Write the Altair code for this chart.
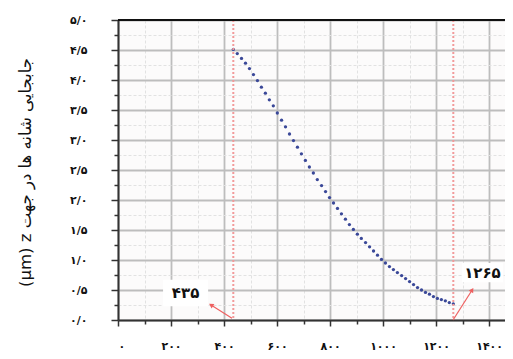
import altair as alt
import pandas as pd

# ---- data ----
pos_x = [435, 450, 466, 481, 496, 511, 526, 541, 556, 571,
         586, 601, 617, 632, 647, 662, 677, 692, 707, 722,
         737, 752, 768, 783, 798, 813, 828, 843, 858, 873,
         888, 903, 918, 934, 949, 964, 979, 994, 1009, 1024,
         1039, 1054, 1070, 1085, 1100, 1115, 1130, 1145, 1160, 1175,
         1190, 1205, 1220, 1235, 1250, 1265]
disp_z = [4.51, 4.44, 4.36, 4.28, 4.19, 4.09, 3.99, 3.88, 3.78, 3.67,
          3.57, 3.45, 3.33, 3.22, 3.10, 2.99, 2.88, 2.77, 2.66, 2.55,
          2.45, 2.34, 2.24, 2.14, 2.04, 1.95, 1.86, 1.77, 1.68, 1.59,
          1.51, 1.43, 1.36, 1.29, 1.22, 1.15, 1.08, 1.01, 0.95, 0.89,
          0.84, 0.79, 0.74, 0.69, 0.64, 0.59, 0.54, 0.50, 0.46, 0.43,
          0.39, 0.36, 0.34, 0.32, 0.29, 0.27]

marker_x = [435, 1265]
marker_labels = ["۴۳۵", "۱۲۶۵"]

# annotation geometry (data units)
label_x = [255, 1375]
label_y = [0.45, 0.79]
box_x1 = [170, 1298]
box_x2 = [340, 1453]
box_y1 = [0.23, 0.63]
box_y2 = [0.67, 0.95]
arrow_x1 = [430, 1264]
arrow_y1 = [0.03, 0.0]
arrow_x2 = [351, 1336]
arrow_y2 = [0.25, 0.50]
arrow_angle = [302, 32]

y_tick_values = [0.0, 0.5, 1.0, 1.5, 2.0, 2.5, 3.0, 3.5, 4.0, 4.5, 5.0]
y_tick_labels = ["۰/۰", "۰/۵", "۱/۰", "۱/۵", "۲/۰", "۲/۵", "۳/۰", "۳/۵", "۴/۰", "۴/۵", "۵/۰"]
x_tick_values = [0, 200, 400, 600, 800, 1000, 1200, 1400]
x_tick_labels = ["۰", "۲۰۰", "۴۰۰", "۶۰۰", "۸۰۰", "۱۰۰۰", "۱۲۰۰", "۱۴۰۰"]
y_minor = [0.25 * i for i in range(21)]
x_minor = [100 * i for i in range(15)]

y_title = "(µm) z جابجایی شانه ها در جهت"


def label_expr(values, labels):
    expr = "''"
    for v, l in reversed(list(zip(values, labels))):
        expr = f"abs(datum.value - {v}) < 1e-6 ? '{l}' : ({expr})"
    return expr


FONT = "DejaVu Sans"
xs = alt.Scale(domain=[0, 1460], nice=False)
ys = alt.Scale(domain=[0, 5], nice=False)

df = pd.DataFrame({"x": pos_x, "y": disp_z})

XMAJ = "datum.value % 200 == 0"
YMAJ = "datum.value % 0.5 == 0"

x_axis = alt.Axis(
    values=x_minor, labelExpr=label_expr(x_tick_values, x_tick_labels),
    labelOverlap=False, title=None, labelFont=FONT, labelFontSize=11,
    labelFontWeight="bold", labelColor="#111", labelPadding=14,
    domainColor="#333", domainWidth=2, tickColor="#333", tickWidth=1.5,
    tickSize={"condition": {"test": XMAJ, "value": 6}, "value": 4},
    grid=True,
    gridColor={"condition": {"test": XMAJ, "value": "#bdbdbd"}, "value": "#e2e2e2"},
    gridWidth={"condition": {"test": XMAJ, "value": 1.8}, "value": 1},
    gridDash={"condition": {"test": XMAJ, "value": []}, "value": [3, 2]},
)
y_axis = alt.Axis(
    values=y_minor, labelExpr=label_expr(y_tick_values, y_tick_labels),
    labelOverlap=False, title=y_title, titleFont=FONT, titleFontSize=16.5,
    titleFontWeight="normal", titleColor="#111", titleX=-93, titleY=152,
    titleBaseline="middle",
    labelFont=FONT, labelFontSize=11, labelFontWeight="bold", labelColor="#111",
    labelPadding=24,
    domainColor="#333", domainWidth=2, tickColor="#333", tickWidth=1.5,
    tickSize={"condition": {"test": YMAJ, "value": 7}, "value": 4},
    grid=True,
    gridColor={"condition": {"test": YMAJ, "value": "#bdbdbd"}, "value": "#e2e2e2"},
    gridWidth={"condition": {"test": YMAJ, "value": 1.8}, "value": 1},
    gridDash={"condition": {"test": YMAJ, "value": []}, "value": [3, 2]},
)


def X(field):
    return alt.X(field, type="quantitative", scale=xs, axis=x_axis)


def Y(field):
    return alt.Y(field, type="quantitative", scale=ys, axis=y_axis)


points = alt.Chart(df).mark_circle(size=11, color="#3a4898", opacity=1).encode(
    x=X("x"), y=Y("y"),
)

vlines = alt.Chart(pd.DataFrame({"x": marker_x})).mark_rule(
    color="#f29a9a", strokeDash=[2, 2], strokeWidth=2
).encode(x=X("x"))

top_line = alt.Chart(pd.DataFrame({"y": [5.0]})).mark_rule(
    color="#111", strokeWidth=2
).encode(y=Y("y"))

ann = pd.DataFrame({
    "label": marker_labels, "lx": label_x, "ly": label_y,
    "bx1": box_x1, "bx2": box_x2, "by1": box_y1, "by2": box_y2,
    "ax1": arrow_x1, "ay1": arrow_y1, "ax2": arrow_x2, "ay2": arrow_y2,
    "ang": arrow_angle,
})

arrows = alt.Chart(ann).mark_rule(color="#ee6060", strokeWidth=1.2).encode(
    x=X("ax1"), y=Y("ay1"), x2="ax2:Q", y2="ay2:Q",
)
heads = alt.Chart(ann).mark_point(
    shape="triangle-up", filled=True, color="#ee6060", size=28, opacity=1
).encode(
    x=X("ax2"), y=Y("ay2"), angle=alt.Angle("ang:Q", scale=None),
)
boxes = alt.Chart(ann).mark_rect(color="white", opacity=1).encode(
    x=X("bx1"), x2="bx2:Q", y=Y("by1"), y2="by2:Q",
)
texts = alt.Chart(ann).mark_text(
    font=FONT, fontSize=15, fontWeight="bold", color="#111", baseline="middle"
).encode(
    x=X("lx"), y=Y("ly"), text="label:N",
)

chart = alt.layer(points, vlines, top_line, boxes, arrows, heads, texts).properties(
    width=387, height=300,
    autosize=alt.AutoSizeParams(type="none"),
    padding={"left": 110, "top": 12, "right": 0, "bottom": 38},
    background="white",
).configure_view(fill="#fcfbfb", stroke=None)

chart.save("out.html", embed_options={"renderer": "svg", "actions": False})
